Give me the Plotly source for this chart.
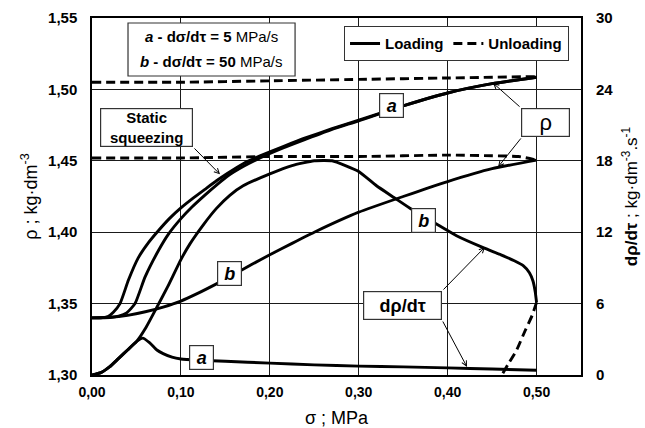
import plotly.graph_objects as go

# ---------------- data ----------------
x_ticks = [0.0, 0.1, 0.2, 0.3, 0.4, 0.5]
x_tick_labels = ["0,00", "0,10", "0,20", "0,30", "0,40", "0,50"]
y_ticks = [1.30, 1.35, 1.40, 1.45, 1.50, 1.55]
y_tick_labels = ["1,30", "1,35", "1,40", "1,45", "1,50", "1,55"]
y2_ticks = [0, 6, 12, 18, 24, 30]
y2_tick_labels = ["0", "6", "12", "18", "24", "30"]

# density, static squeezing (loading)
static_x = [0, 0.01, 0.018, 0.024, 0.0315, 0.041, 0.052, 0.0633, 0.0746, 0.087, 0.1, 0.113,
            0.127, 0.14, 0.153, 0.17, 0.189, 0.215, 0.24, 0.27, 0.3, 0.35, 0.4, 0.45, 0.5]
static_rho = [1.340, 1.3401, 1.3410, 1.3440, 1.350, 1.3665, 1.382, 1.3925, 1.401, 1.4095, 1.417,
              1.4235, 1.4300, 1.436, 1.4415, 1.448, 1.4535, 1.460, 1.466, 1.4725, 1.4785,
              1.4885, 1.4975, 1.504, 1.5085]

# density, a (5 MPa/s) loading
rho_a_x = [0, 0.02, 0.03, 0.039, 0.0484, 0.0596, 0.0746, 0.0858, 0.1, 0.113, 0.127, 0.14,
           0.153, 0.17, 0.189, 0.215, 0.24, 0.27, 0.3, 0.35, 0.4, 0.45, 0.5]
rho_a = [1.340, 1.3402, 1.3412, 1.3435, 1.350, 1.3685, 1.3870, 1.3985, 1.4095, 1.4180, 1.4260,
         1.4330, 1.4395, 1.4460, 1.4520, 1.4590, 1.4650, 1.4720, 1.4780, 1.4885, 1.4975,
         1.504, 1.5085]

# density, b (50 MPa/s) loading
rho_b_x = [0, 0.02, 0.04, 0.06, 0.08, 0.1, 0.12, 0.14, 0.16, 0.18, 0.2, 0.225, 0.25, 0.3,
           0.35, 0.4, 0.45, 0.5]
rho_b = [1.340, 1.3404, 1.3418, 1.3443, 1.3476, 1.3518, 1.3575, 1.3638, 1.3705, 1.3775,
         1.3842, 1.3922, 1.400, 1.414, 1.425, 1.4355, 1.4445, 1.4505]

# density unloading
unl_a_x = [0.0, 0.1, 0.2, 0.3, 0.4, 0.5]
unl_a = [1.505, 1.505, 1.506, 1.507, 1.508, 1.509]
unl_b_x = [0.0, 0.1, 0.2, 0.3, 0.4, 0.45, 0.48, 0.5]
unl_b = [1.452, 1.452, 1.453, 1.453, 1.454, 1.4535, 1.453, 1.4505]

# density rate a (right axis)
drate_a_x = [0, 0.01, 0.02, 0.03, 0.04, 0.05, 0.057, 0.065, 0.073, 0.08, 0.09, 0.1, 0.12,
             0.15, 0.2, 0.25, 0.3, 0.35, 0.4, 0.45, 0.5]
drate_a = [0, 0.2, 0.7, 1.4, 2.1, 2.8, 3.1, 2.7, 2.1, 1.8, 1.5, 1.35, 1.25,
           1.15, 1.0, 0.85, 0.75, 0.68, 0.6, 0.5, 0.4]

# density rate b (right axis) loading
drate_b_x = [0, 0.01, 0.02, 0.03, 0.04, 0.05, 0.06, 0.073, 0.085, 0.1, 0.11, 0.125, 0.14,
             0.155, 0.17, 0.2, 0.225, 0.25, 0.27, 0.285, 0.3, 0.32, 0.34, 0.36, 0.387,
             0.41, 0.44, 0.46, 0.475, 0.485, 0.492, 0.496, 0.4985, 0.5]
drate_b = [0, 0.2, 0.7, 1.4, 2.1, 2.8, 3.9, 5.7, 7.4, 9.7, 11.0, 12.6, 14.0,
           15.1, 15.9, 16.9, 17.6, 18.0, 18.0, 17.6, 17.1, 15.9, 14.9, 13.9, 12.7,
           11.7, 10.7, 10.1, 9.6, 9.2, 8.6, 7.9, 7.0, 6.1]

# density rate b unloading
drate_b_unl_x = [0.5, 0.495, 0.487, 0.477, 0.468, 0.461]
drate_b_unl = [6.1, 5.0, 3.7, 2.0, 0.9, 0.0]

# ---------------- figure ----------------
FONT = "Arial, Liberation Sans, sans-serif"
LW = 2.9
DASH = "9px,5px"

fig = go.Figure()

def add(x, y, axis="y", dash="solid", name=None, legend=False):
    fig.add_trace(go.Scatter(
        x=x, y=y, yaxis=axis, mode="lines", name=name, showlegend=legend,
        line=dict(color="black", width=LW, dash=dash, shape="spline", smoothing=0.5),
        hoverinfo="skip"))

add(static_x, static_rho, name="Loading", legend=True)
add(unl_a_x, unl_a, dash=DASH, name="Unloading", legend=True)
add(rho_a_x, rho_a)
add(rho_b_x, rho_b)
add(unl_b_x, unl_b, dash=DASH)
add(drate_a_x, drate_a, axis="y2")
add(drate_b_x, drate_b, axis="y2")
add(drate_b_unl_x, drate_b_unl, axis="y2", dash=DASH)

ann = []

def arrow(tx, ty, hx, hy):
    ann.append(dict(x=hx, y=hy, ax=tx, ay=ty, xref="x", yref="y", axref="x", ayref="y",
                    text="", showarrow=True, arrowhead=5, arrowsize=1.0, arrowwidth=1,
                    arrowcolor="black", standoff=0, startstandoff=0))

arrow(0.1136, 1.4597, 0.144, 1.4405)      # static squeezing
arrow(0.4826, 1.4870, 0.451, 1.5045)      # rho upper
arrow(0.4837, 1.4667, 0.4567, 1.4457)     # rho lower
arrow(0.3937, 1.3588, 0.442, 1.3896)      # drho upper
arrow(0.3937, 1.3385, 0.4218, 1.3056)     # drho lower

def box(x, y, text, w, h, size, bold=False, italic=False):
    t = text
    if italic:
        t = "<i>" + t + "</i>"
    if bold:
        t = "<b>" + t + "</b>"
    ann.append(dict(x=x, y=y, xref="x", yref="y", text=t, showarrow=False,
                    font=dict(family=FONT, size=size, color="black"),
                    bgcolor="white", bordercolor="#333333", borderwidth=1.2,
                    borderpad=0, width=w, height=h, align="center", valign="middle"))

box(0.0613, 1.4733, "Static<br>squeezing", 91, 37, 15, bold=True)
box(0.5101, 1.4768, "ρ", 47, 27, 22)
box(0.3493, 1.3487, "dρ/dτ", 77, 27, 18, bold=True)
box(0.337, 1.4884, "a", 23, 23, 18, bold=True, italic=True)
box(0.1552, 1.3714, "b", 23, 23, 18, bold=True, italic=True)
box(0.1232, 1.3123, "a", 23, 23, 18, bold=True, italic=True)
box(0.3723, 1.4082, "b", 23, 23, 18, bold=True, italic=True)

# info box text (two lines)
ann.append(dict(x=0.1344, y=1.5367, xref="x", yref="y", showarrow=False,
                text="<b><i>a</i> - dσ/dτ = 5</b> MPa/s",
                font=dict(family=FONT, size=15, color="black")))
ann.append(dict(x=0.1344, y=1.5192, xref="x", yref="y", showarrow=False,
                text="<b><i>b</i> - dσ/dτ = 50</b> MPa/s",
                font=dict(family=FONT, size=15, color="black")))

shapes = [dict(type="rect", xref="x", yref="y", x0=0.0405, x1=0.2284, y0=1.5094, y1=1.5465,
               line=dict(color="#333333", width=1.2), fillcolor="white", layer="above")]

fig.update_layout(
    width=645, height=428,
    margin=dict(l=92, r=64, t=18, b=53),
    paper_bgcolor="white", plot_bgcolor="white",
    font=dict(family=FONT, color="black"),
    annotations=ann, shapes=shapes,
    legend=dict(x=0.515, y=0.9776, xanchor="left", yanchor="top",
                orientation="h", bgcolor="white", bordercolor="#333333", borderwidth=1.2,
                font=dict(family=FONT, size=15, color="black", weight="bold"),
                itemwidth=30, tracegroupgap=0),
    xaxis=dict(range=[0, 0.55], tickvals=x_ticks, ticktext=x_tick_labels,
               tickfont=dict(family=FONT, size=14, color="black", weight="bold"),
               showgrid=True, gridcolor="#1a1a1a", gridwidth=1.2, zeroline=False,
               showline=True, mirror=True, linecolor="black", linewidth=1.5,
               ticks="", ticklabelstandoff=3, automargin=False,
               title=dict(text="σ ; MPa", font=dict(family=FONT, size=18, color="black"),
                          standoff=14)),
    yaxis=dict(range=[1.30, 1.55], tickvals=y_ticks, ticktext=y_tick_labels,
               tickfont=dict(family=FONT, size=15, color="black", weight="bold"),
               showgrid=True, gridcolor="#1a1a1a", gridwidth=1.2, zeroline=False,
               showline=True, mirror=True, linecolor="black", linewidth=1.5,
               ticks="", ticklabelstandoff=10, automargin=False,
               title=dict(text="ρ ; kg·dm<sup>-3</sup>",
                          font=dict(family=FONT, size=18, color="black"), standoff=6)),
    yaxis2=dict(range=[0, 30], tickvals=y2_ticks, ticktext=y2_tick_labels,
                overlaying="y", side="right",
                tickfont=dict(family=FONT, size=15, color="black", weight="bold"),
                showgrid=False, zeroline=False, showline=False, ticks="",
                ticklabelstandoff=14, automargin=False,
                title=dict(text="<b>dρ/dτ</b> ; kg·dm<sup>-3</sup>.s<sup>-1</sup>",
                           font=dict(family=FONT, size=17, color="black"), standoff=12)),
)

fig.write_html("out.html", config={"displayModeBar": False},
               post_script="document.body.style.margin='0px';")
